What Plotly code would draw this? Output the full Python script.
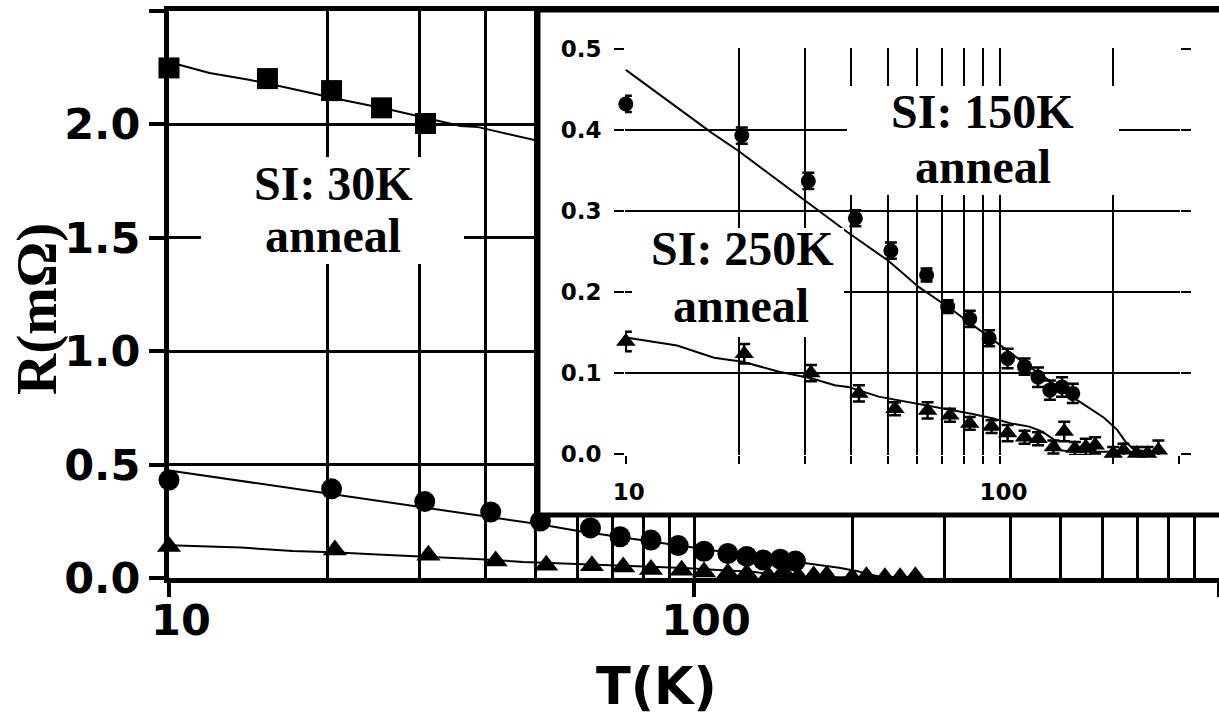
import numpy as np
import plotly.graph_objects as go

# ---------------- data ----------------
# SI: 30K anneal (main plot only)
T_30K = [10, 15.4, 20.4, 25.4, 30.8]
R_30K = [2.249, 2.202, 2.149, 2.073, 2.004]
T_30K_fit = [10, 10.2, 11.95, 14.2, 16.3, 21.2, 26.3, 35.9, 38.8, 46.1, 50.6, 60]
R_30K_fit = [2.27, 2.27, 2.227, 2.197, 2.168, 2.11, 2.066, 1.993, 1.988, 1.949, 1.927, 1.90]

# SI: 150K anneal
T_150K = [10, 20.4, 30.7, 41, 51, 63.5, 72.3, 82.8, 93.3, 104.5, 116, 126, 135.5,
          146, 156]
R_150K = [0.432, 0.393, 0.337, 0.291, 0.251, 0.221, 0.182, 0.167, 0.143, 0.118,
          0.108, 0.095, 0.079, 0.083, 0.075]
E_150K = [0.010, 0.010, 0.010, 0.010, 0.010, 0.008, 0.008, 0.010, 0.010, 0.012,
          0.010, 0.012, 0.012, 0.012, 0.012]
T_150K_fit = [10, 17.0, 20, 30, 39, 50.4, 60.6, 73.3, 83.7, 98.8, 116, 136.6, 160,
              189, 205, 216, 228, 262]
R_150K_fit = [0.474, 0.396, 0.374, 0.313, 0.274, 0.238, 0.206, 0.180, 0.160, 0.136,
              0.112, 0.089, 0.067, 0.045, 0.030, 0.015, 0.005, 0.003]

# SI: 250K anneal
T_250K = [10, 20.7, 31.2, 41.9, 52.3, 63.9, 73.3, 82.8, 94.7, 104.5, 116, 126,
          138.5, 148, 158, 169, 179, 200, 213, 231, 247, 264]
R_250K = [0.139, 0.124, 0.100, 0.075, 0.056, 0.054, 0.048, 0.038, 0.034, 0.026,
          0.021, 0.019, 0.009, 0.028, 0.007, 0.009, 0.011, 0.001, 0.005, 0.001,
          0.001, 0.005]
E_250K = [0.012, 0.012, 0.010, 0.010, 0.008, 0.010, 0.008, 0.008, 0.008, 0.010,
          0.008, 0.008, 0.008, 0.012, 0.008, 0.010, 0.010, 0.008, 0.008, 0.008,
          0.008, 0.012]
T_250K_fit = [10, 13.7, 17.2, 20.5, 25.5, 31.6, 36.1, 39.2, 47.3, 55.9, 67.6, 83.7,
              95.7, 106.7, 119.4, 129, 140, 144, 156, 262]
R_250K_fit = [0.144, 0.134, 0.119, 0.114, 0.102, 0.093, 0.085, 0.083, 0.071, 0.065,
              0.058, 0.050, 0.044, 0.038, 0.034, 0.028, 0.017, 0.005, 0.003, 0.003]

# axis ticks
main_x_major = [10, 100, 1000]
main_x_major_text = ["10", "100", ""]
main_x_minor = [20, 30, 40, 50, 60, 70, 80, 90, 200, 300, 400, 500, 600, 700, 800, 900]
main_y_ticks = [0, 0.5, 1.0, 1.5, 2.0, 2.5]
main_y_text = ["0.0", "0.5", "1.0", "1.5", "2.0", ""]
ins_x_major = [10, 100]
ins_x_major_text = ["10", "100"]
ins_x_minor = [20, 30, 40, 50, 60, 70, 80, 90, 200, 300]
ins_y_ticks = [0, 0.1, 0.2, 0.3, 0.4, 0.5]
ins_y_text = ["0.0", "0.1", "0.2", "0.3", "0.4", "0.5"]

# ---------------- layout geometry (pixels) ----------------
W, H = 1219, 717
L, R_, T_, B = 169, 0, 11, 139
PW, PH = W - L - R_, H - T_ - B


def px(x):
    return (x - L) / PW


def py(y):
    return (H - B - y) / PH


SANS = "DejaVu Sans"
SERIF = "Liberation Serif"

fig = go.Figure()

LINE = dict(color="black", width=2)

# ---- main plot ----
for tx, ry in [(T_30K_fit, R_30K_fit), (T_150K_fit, R_150K_fit), (T_250K_fit, R_250K_fit)]:
    fig.add_trace(go.Scatter(x=tx, y=ry, mode="lines", line=LINE,
                             xaxis="x", yaxis="y", cliponaxis=False))
fig.add_trace(go.Scatter(x=T_30K, y=R_30K, mode="markers", cliponaxis=False,
                         marker=dict(symbol="square", size=21, color="black"),
                         xaxis="x", yaxis="y"))
fig.add_trace(go.Scatter(x=T_150K, y=R_150K, mode="markers", cliponaxis=False,
                         marker=dict(symbol="circle", size=21, color="black"),
                         xaxis="x", yaxis="y"))
fig.add_trace(go.Scatter(x=T_250K, y=R_250K, mode="markers", cliponaxis=False,
                         marker=dict(symbol="triangle-up", size=21, color="black"),
                         xaxis="x", yaxis="y"))

# ---- inset box (empty subplot whose background hides the main plot) ----
fig.add_trace(go.Scatter(x=[], y=[], xaxis="x2", yaxis="y2"))

# ---- inset plot ----
for tx, ry in [(T_150K_fit, R_150K_fit), (T_250K_fit, R_250K_fit)]:
    fig.add_trace(go.Scatter(x=tx, y=ry, mode="lines", line=LINE,
                             xaxis="x3", yaxis="y3", cliponaxis=False))
fig.add_trace(go.Scatter(x=T_150K, y=R_150K, mode="markers", cliponaxis=False,
                         marker=dict(symbol="circle", size=15, color="black"),
                         error_y=dict(type="data", array=E_150K, width=6, thickness=2.5,
                                      color="black"),
                         xaxis="x3", yaxis="y3"))
fig.add_trace(go.Scatter(x=T_250K, y=R_250K, mode="markers", cliponaxis=False,
                         marker=dict(symbol="triangle-up", size=17, color="black"),
                         error_y=dict(type="data", array=E_250K, width=6, thickness=2.5,
                                      color="black"),
                         xaxis="x3", yaxis="y3"))

tick_font_main = dict(family=SANS, size=43, color="black", weight="bold")
tick_font_ins = dict(family=SANS, size=23, color="black", weight="bold")

fig.update_layout(
    width=W, height=H,
    margin=dict(l=L, r=R_, t=T_, b=B, pad=0),
    paper_bgcolor="white", plot_bgcolor="white",
    showlegend=False,
    xaxis=dict(
        type="log", range=[1, 3], domain=[0, 1], anchor="y",
        tickmode="array", tickvals=main_x_major, ticktext=main_x_major_text,
        ticks="outside", ticklen=14, tickwidth=4, tickcolor="black",
        showline=True, linewidth=5, linecolor="black", mirror=True,
        showgrid=True, gridcolor="black", gridwidth=2.5,
        minor=dict(tickmode="array", tickvals=main_x_minor, showgrid=True,
                   gridcolor="black", gridwidth=2.5, ticks=""),
        tickfont=tick_font_main, ticklabelshift=12, ticklabelstandoff=-14,
        zeroline=False,
    ),
    yaxis=dict(
        range=[0, 2.5], domain=[0, 1], anchor="x",
        tickmode="array", tickvals=main_y_ticks, ticktext=main_y_text,
        ticks="outside", ticklen=15, tickwidth=4, tickcolor="black",
        showline=True, linewidth=5, linecolor="black",
        showgrid=True, gridcolor="black", gridwidth=2.5,
        tickfont=tick_font_main, zeroline=False,
    ),
    xaxis2=dict(domain=[px(538), 1], anchor="y2", visible=False, range=[0, 1]),
    yaxis2=dict(domain=[py(515), 1], anchor="x2", visible=False, range=[0, 1]),
    xaxis3=dict(
        type="log", range=[np.log10(9.95), np.log10(301.5)],
        domain=[px(625), px(1180)], anchor="y3",
        tickmode="array", tickvals=ins_x_major, ticktext=ins_x_major_text,
        ticks="outside", ticklen=8, tickwidth=2, tickcolor="black",
        showline=False, showgrid=True, gridcolor="black", gridwidth=2,
        minor=dict(tickmode="array", tickvals=ins_x_minor, showgrid=True,
                   gridcolor="black", gridwidth=2, ticks="outside",
                   ticklen=8, tickwidth=2, tickcolor="black"),
        tickfont=tick_font_ins, ticklabelstandoff=8, ticklabelshift=3,
        zeroline=False,
    ),
    yaxis3=dict(
        range=[-0.001, 0.501], domain=[py(455), py(48)], anchor="x3",
        tickmode="array", tickvals=ins_y_ticks, ticktext=ins_y_text,
        ticks="outside", ticklen=10, tickwidth=2, tickcolor="black",
        mirror="ticks", showline=False,
        showgrid=True, gridcolor="black", gridwidth=2,
        tickfont=tick_font_ins, ticklabelstandoff=8, zeroline=False,
    ),
)

# white masks behind the text labels
for (x0, y0, x1, y1) in [(201, 157, 464, 264), (847, 86, 1119, 195), (632, 228, 844, 337)]:
    fig.add_shape(type="rect", xref="paper", yref="paper",
                  x0=px(x0), x1=px(x1), y0=py(y1), y1=py(y0),
                  fillcolor="white", line=dict(width=0), layer="above")

# inset border
fig.add_shape(type="rect", xref="paper", yref="paper",
              x0=px(538), x1=1.05, y0=py(515), y1=py(10),
              fillcolor="rgba(0,0,0,0)", line=dict(color="black", width=5),
              layer="above")

serif_font = dict(family=SERIF, size=48, color="black", weight="bold")
labels = [
    ("SI: 30K", 333, 183), ("anneal", 333, 235),
    ("SI: 150K", 982, 111), ("anneal", 983, 166),
    ("SI: 250K", 742, 248), ("anneal", 741, 305),
]
for txt, x, y in labels:
    fig.add_annotation(text=txt, x=px(x), y=py(y), xref="paper", yref="paper",
                       showarrow=False, xanchor="center", yanchor="middle",
                       font=serif_font)

# axis titles
fig.add_annotation(text="T(K)", x=px(656), y=py(686), xref="paper", yref="paper",
                   showarrow=False, xanchor="center", yanchor="middle",
                   font=dict(family=SANS, size=51, color="black", weight="bold"))
fig.add_annotation(text="R(mΩ)", x=px(37), y=py(309), xref="paper", yref="paper",
                   showarrow=False, xanchor="center", yanchor="middle", textangle=-90,
                   font=dict(family=SERIF, size=57, color="black", weight="bold"))

fig.write_html("out.html")
